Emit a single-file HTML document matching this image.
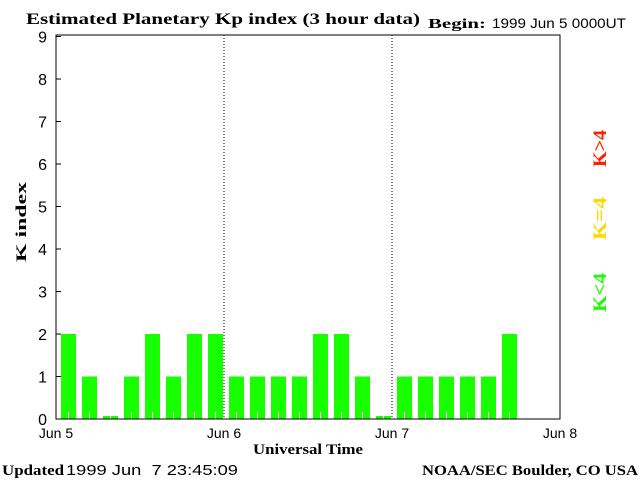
<!DOCTYPE html>
<html><head><meta charset="utf-8"><style>
body{margin:0;background:#fff;width:640px;height:480px;overflow:hidden}
svg{display:block}
.s{font-family:"Liberation Serif",serif;font-weight:bold}
.a{font-family:"Liberation Sans",sans-serif}
</style></head><body>
<svg id="c" width="640" height="480">
<text class="s" x="26" y="24" font-size="16" textLength="394" lengthAdjust="spacingAndGlyphs">Estimated Planetary Kp index (3 hour data)</text>
<text class="s" x="428" y="28" font-size="14" textLength="58" lengthAdjust="spacingAndGlyphs">Begin:</text>
<text class="a" x="492" y="28" font-size="14" textLength="134" lengthAdjust="spacingAndGlyphs">1999 Jun 5 0000UT</text>
<g id="bars"></g>
<rect x="56" y="35" width="504" height="384" fill="none" stroke="#000" stroke-width="1"/>
<g id="axes"></g>
<text class="s" x="26" y="222" font-size="15" transform="rotate(-90 26 222)" text-anchor="middle" textLength="80" lengthAdjust="spacingAndGlyphs">K index</text>
<text class="s" x="253" y="454" font-size="15" textLength="110" lengthAdjust="spacingAndGlyphs">Universal Time</text>
<text class="s" x="2" y="475" font-size="15" textLength="62" lengthAdjust="spacingAndGlyphs">Updated</text>
<text class="a" x="66" y="475" font-size="15" xml:space="preserve" textLength="172" lengthAdjust="spacingAndGlyphs">1999 Jun  7 23:45:09</text>
<text class="s" x="422" y="475" font-size="15" textLength="216" lengthAdjust="spacingAndGlyphs">NOAA/SEC Boulder, CO USA</text>
<text class="s" x="606" y="167" font-size="19" fill="#ff2000" transform="rotate(-90 606 167)" textLength="37" lengthAdjust="spacingAndGlyphs">K&gt;4</text>
<text class="s" x="606" y="240" font-size="19" fill="#ffd800" transform="rotate(-90 606 240)" textLength="43" lengthAdjust="spacingAndGlyphs">K=4</text>
<text class="s" x="606" y="312" font-size="19" fill="#18ff00" transform="rotate(-90 606 312)" textLength="39" lengthAdjust="spacingAndGlyphs">K&lt;4</text>
</svg>
<script>
const kValues=[2,1,0,1,2,1,2,2,1,1,1,1,2,2,1,0,1,1,1,1,1,2];
const yTicks=[0,1,2,3,4,5,6,7,8,9];
const dayLabels=["Jun 5","Jun 6","Jun 7","Jun 8"];
const NS="http://www.w3.org/2000/svg";
const x0=56,slot=21,yZero=419,unit=42.5;
const xs=i=>x0+slot*i;
const ys=v=>yZero-unit*v;
function mk(t,a,p){const e=document.createElementNS(NS,t);for(const k in a)e.setAttribute(k,a[k]);p.appendChild(e);return e;}
const bars=document.getElementById('bars'),axes=document.getElementById('axes');
kValues.forEach((v,i)=>{
 const h=Math.max(unit*v,3);
 const col=v>4?'#ff2000':(v==4?'#ffd800':'#18ff00');
 const r=mk('rect',{x:xs(i)+5,y:yZero-h,width:15,height:h,fill:col},bars);
 
 
 const w=mk('line',{x1:xs(i)+12.5,x2:xs(i)+12.5,y1:yZero-7,y2:yZero,stroke:'#fff'},bars);
 
 
});
yTicks.forEach(t=>{
 const l=mk('line',{x1:56,x2:61,y1:ys(t),y2:ys(t),stroke:'#000'},axes);
 
 
 const tx=mk('text',{x:47,y:ys(t)+6,'font-size':16,'text-anchor':'end','class':'a'},axes);
 tx.textContent=t;
 
 
});
dayLabels.forEach((d,i)=>{
 const x=x0+168*i;
 if(i>0&&i<3){const l=mk('line',{x1:x,x2:x,y1:35,y2:419,stroke:'#000','stroke-dasharray':'1,2'},axes);
 
 }
 const tx=mk('text',{x:x,y:438,'font-size':14,'text-anchor':'middle','class':'a'},axes);
 tx.textContent=d;
 
 
});
</script>
</body></html>
